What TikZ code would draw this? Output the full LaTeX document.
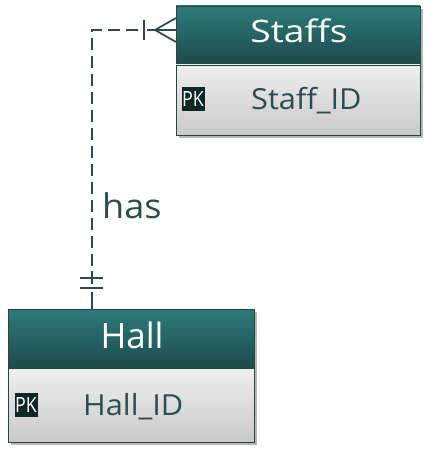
\documentclass[tikz,border=0pt]{standalone}
\usepackage{fontspec}
\setmainfont{Open Sans}
\newfontfamily\wideA[FakeStretch=1.2]{Open Sans}
\newfontfamily\wideB[FakeStretch=1.06]{Open Sans}
\newfontfamily\narrowP[FakeStretch=0.85]{Open Sans}
\usetikzlibrary{shadows,calc}
\definecolor{hdtop}{HTML}{2E7B7C}
\definecolor{hdbot}{HTML}{1D4A4B}
\definecolor{bdtop}{HTML}{EFEFEF}
\definecolor{bdbot}{HTML}{C9C9C9}
\definecolor{edgec}{HTML}{264646}
\definecolor{txtc}{HTML}{2A4D4E}
\definecolor{pkbg}{HTML}{0F2727}
\definecolor{linec}{HTML}{2E4A4A}
\tikzset{
  tshadow/.style={drop shadow={shadow xshift=2.5pt,shadow yshift=-3pt,opacity=0.4,fill=black!70}},
  header/.style={draw=edgec,line width=0.9pt,top color=hdtop,bottom color=hdbot,minimum width=#1,minimum height=59pt,inner sep=0pt,outer sep=0pt,tshadow},
  tbody/.style={draw=edgec,line width=0.9pt,top color=bdtop,bottom color=bdbot,minimum width=#1,minimum height=74pt,inner sep=0pt,outer sep=0pt,tshadow},
  htext/.style={text=white,inner sep=0pt},
  ftext/.style={text=txtc,font=\wideB\fontsize{29}{29}\selectfont,inner sep=0pt},
  pkbox/.style={fill=pkbg,text=white,font=\narrowP\fontsize{21}{21}\selectfont,minimum width=23pt,minimum height=24pt,inner sep=0pt},
  rel/.style={draw=linec,line width=1.7pt},
  reldash/.style={rel,dash pattern=on 12pt off 6pt},
  lbl/.style={text=txtc,font=\wideB\fontsize{34}{34}\selectfont,inner sep=0pt}
}
\begin{document}
\begin{tikzpicture}[x=1pt,y=-1pt]
\useasboundingbox[fill=white] (0,0) rectangle (430,454);
% Staffs table
\node[header=244pt,anchor=north west] (staffsH) at (176,6) {};
\node[tbody=244pt,anchor=north west,minimum height=70pt] (staffsB) at (staffsH.south west) {};
\node[htext,font=\wideA\fontsize{31}{31}\selectfont,anchor=base] (staffsT) at (299,43) {Staffs};
\node[pkbox] (staffsPK) at (193,99.5) {PK};
\node[ftext,anchor=base west] (staffsF) at (251,110) {Staff\_ID};
% Hall table
\node[header=246pt,anchor=north west] (hallH) at (8,309) {};
\node[tbody=246pt,anchor=north west] (hallB) at (hallH.south west) {};
\node[htext,font=\fontsize{35}{35}\selectfont,anchor=base] (hallT) at (132,348) {Hall};
\node[pkbox] (hallPK) at (26,404.5) {PK};
\node[ftext,anchor=base west] (hallF) at (83,415) {Hall\_ID};
% relationship
\coordinate (sEnd) at ($(staffsH.north west)+(0,24)$);
\coordinate (hEnd) at ($(hallH.north west)+(84,0)$);
\coordinate (corner) at (sEnd -| hEnd);
\draw[reldash] ($(sEnd)+(-38,0)$) -- (corner) -- ($(hEnd)+(0,-39)$);
\draw[rel] ($(sEnd)+(-29,0)$) -- (sEnd);
\draw[rel] ($(sEnd)+(-32,-10)$) -- ($(sEnd)+(-32,10)$);
\draw[rel] ($(sEnd)+(-21,0)$) -- ($(sEnd)+(0,-12)$);
\draw[rel] ($(sEnd)+(-21,0)$) -- ($(sEnd)+(0,12)$);
\draw[rel] ($(hEnd)+(0,-38)$) -- ($(hEnd)+(0,-25)$);
\draw[rel] ($(hEnd)+(0,-17)$) -- (hEnd);
\draw[rel] ($(hEnd)+(-12,-31)$) -- ($(hEnd)+(11,-31)$);
\draw[rel] ($(hEnd)+(-12,-21)$) -- ($(hEnd)+(11,-21)$);
\node[lbl,anchor=base west] (hasL) at (102,218) {has};
\end{tikzpicture}
\end{document}
